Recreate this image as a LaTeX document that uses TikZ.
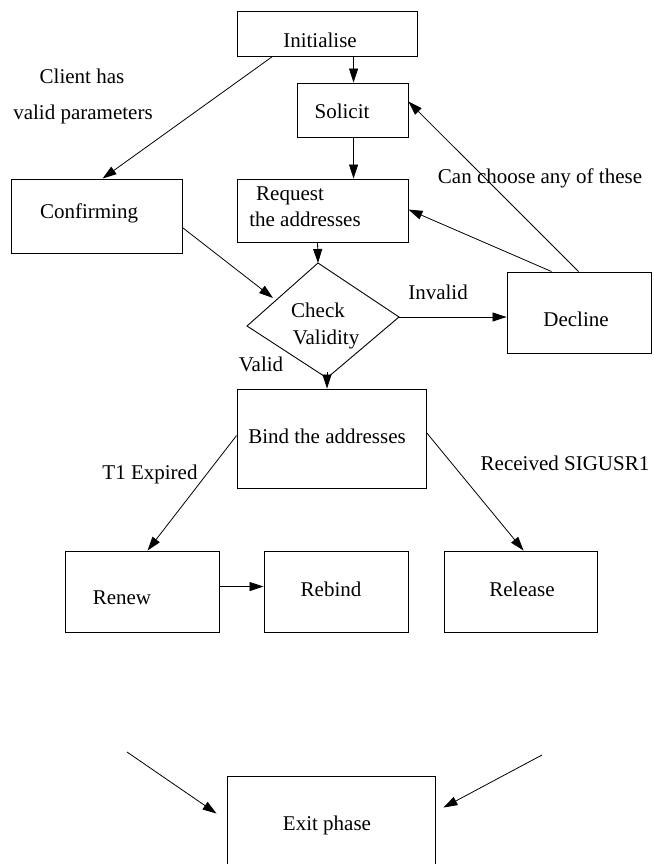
\documentclass[tikz,border=0pt]{standalone}
\usepackage{fontspec}
\setmainfont{Liberation Serif}
\usetikzlibrary{arrows.meta,calc}
\begin{document}
\begin{tikzpicture}[x=1pt,y=-1pt,
  every path/.style={line width=0.9pt},
  box/.style={draw,rectangle,inner sep=0pt,line width=0.9pt},
  lbl/.style={anchor=base,inner sep=0pt,font=\fontsize{21}{25}\selectfont},
  arr/.style={-{Triangle[length=14pt,width=9pt]},line width=0.8pt}]
\useasboundingbox (0,0) rectangle (653,864);
% boxes
\node[box,minimum width=180pt,minimum height=45pt] (init) at (327,33.5) {};
\node[box,minimum width=111pt,minimum height=54pt] (solicit) at (352.5,110) {};
\node[box,minimum width=171pt,minimum height=63pt] (request) at (322.5,210.5) {};
\node[box,minimum width=171pt,minimum height=74pt] (confirm) at (96.5,216) {};
\node[box,minimum width=144pt,minimum height=81pt] (decline) at (579,312.5) {};
\node[box,minimum width=189pt,minimum height=99pt] (bind) at (331.5,438.5) {};
\node[box,minimum width=154pt,minimum height=81pt] (renew) at (142,591.5) {};
\node[box,minimum width=144pt,minimum height=81pt] (rebind) at (336,591.5) {};
\node[box,minimum width=153pt,minimum height=81pt] (release) at (520.5,591.5) {};
\node[box,minimum width=208pt,minimum height=94pt] (exit) at (331,823) {};
% diamond
\coordinate (dtop) at (318,263);
\coordinate (dleft) at (247,326);
\coordinate (dright) at (399,317);
\coordinate (dbot) at (327,378);
\draw (dtop) -- (dright) -- (dbot) -- (dleft) -- cycle;
% texts
\node[lbl] (tinit) at (320,48) {Initialise};
\node[lbl] (tsol) at (342,119) {Solicit};
\node[lbl] (treq1) at (290,200) {Request};
\node[lbl] (treq2) at (305,226) {the addresses};
\node[lbl] (tconf) at (89,218) {Confirming};
\node[lbl] (tclient1) at (82,84) {Client has};
\node[lbl] (tclient2) at (83,120) {valid parameters};
\node[lbl] (tcan) at (540,183) {Can choose any of these};
\node[lbl] (tcheck1) at (318,317) {Check};
\node[lbl] (tcheck2) at (326,344) {Validity};
\node[lbl] (tinvalid) at (438,299) {Invalid};
\node[lbl] (tdecl) at (576,326) {Decline};
\node[lbl] (tvalid) at (261,371) {Valid};
\node[lbl] (tbind) at (327,443) {Bind the addresses};
\node[lbl] (tt1) at (150,479) {T1 Expired};
\node[lbl] (tsig) at (565,470) {Received SIGUSR1};
\node[lbl] (tren) at (122,604) {Renew};
\node[lbl] (treb) at (331,596) {Rebind};
\node[lbl] (trel) at (522,596) {Release};
\node[lbl] (texit) at (327,830) {Exit phase};
% connectors
\draw[arr] ($(init.south west)+(117,0)$) -- ($(solicit.north west)+(57,0)$);
\draw[arr] ($(solicit.south west)+(57,0)$) -- ($(request.north west)+(117,0)$);
\draw[arr] ($(init.south west)+(36,0)$) -- ($(confirm.north west)+(92,0)$);
\draw[arr] ($(request.south west)+(81,0)$) -- (dtop);
\draw[arr] ($(confirm.north east)+(0,49)$) -- (273,298);
\draw[arr] ($(decline.north west)+(72,0)$) -- ($(solicit.north east)+(0,19)$);
\draw[arr] ($(decline.north west)+(45,0)$) -- ($(request.north east)+(0,31)$);
\draw[arr] (dright) -- (dright -| decline.west);
\draw[arr] ($(dbot)+(0,-6)$) -- (dbot |- bind.north);
\draw[arr] ($(bind.north west)+(0,47)$) -- ($(renew.north west)+(83,0)$);
\draw[arr] ($(bind.north east)+(0,44)$) -- ($(release.north west)+(80,0)$);
\draw[arr] ($(renew.north east)+(0,36)$) -- ($(rebind.north west)+(0,36)$);
\coordinate (freeL) at (127,752);
\coordinate (freeR) at (542,755);
\draw[arr] (freeL) -- ($(exit.north west)+(-10,38)$);
\draw[arr] (freeR) -- ($(exit.north east)+(8,32)$);
\end{tikzpicture}
\end{document}
